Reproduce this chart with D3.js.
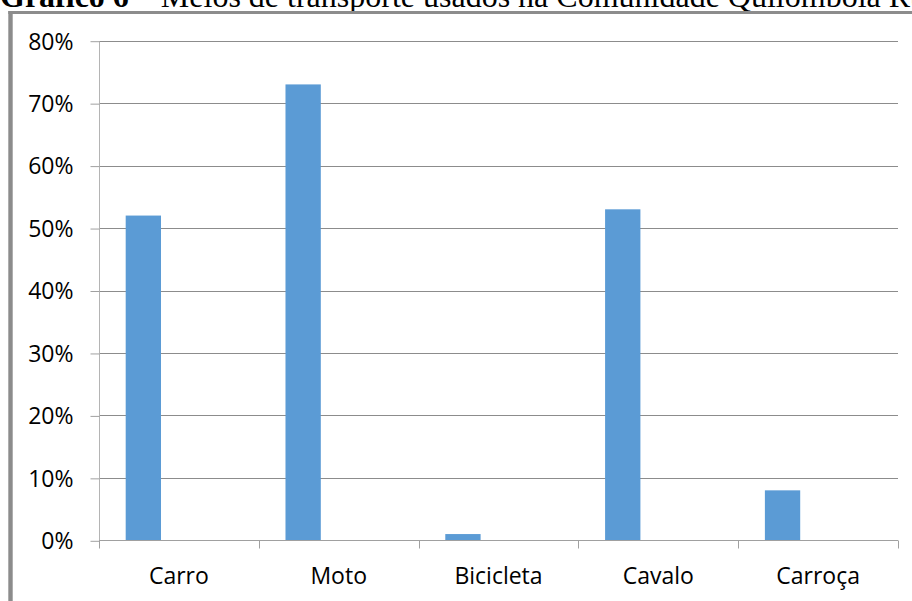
<!DOCTYPE html>
<html>
<head>
<meta charset="utf-8">
<script src="https://cdn.jsdelivr.net/npm/d3@7"></script>
<style>
  html, body { margin: 0; padding: 0; background: #fff; overflow: hidden; }
  svg { display: block; }
</style>
</head>
<body>
<svg id="chart" width="912" height="601"></svg>
<script>
// Meios de transporte usados na comunidade (share of households)
const categories = ["Carro", "Moto", "Bicicleta", "Cavalo", "Carroça"];
const values = [0.52, 0.73, 0.01, 0.53, 0.08];
const yTicks = [0, 0.1, 0.2, 0.3, 0.4, 0.5, 0.6, 0.7, 0.8];

const svg = d3.select("#chart");
const W = 912, H = 601;

// caption above the frame (partly cut by the top edge)
const cap = svg.append("text")
  .attr("x", 0).attr("y", 7)
  .attr("font-family", "'Liberation Serif', 'Times New Roman', serif")
  .attr("font-size", 32)
  .attr("fill", "#000");
cap.append("tspan").attr("font-weight", "bold").text("Gráfico 6");
cap.append("tspan").text(" – Meios de transporte usados na Comunidade Quilombola Rural");

// gray frame around the chart area
svg.append("rect").attr("x", 8.3).attr("y", 11).attr("width", 4.4).attr("height", H - 11).attr("fill", "#8c8c8c");
svg.append("rect").attr("x", 8.3).attr("y", 11).attr("width", W - 8.3).attr("height", 3).attr("fill", "#8c8c8c");

const plot = { left: 99, right: 898, top: 40.7, bottom: 540.3 };

const x = d3.scaleBand().domain(categories).range([plot.left, plot.right]).paddingInner(0).paddingOuter(0);
const y = d3.scaleLinear().domain([0, 0.8]).range([plot.bottom, plot.top]);

// horizontal gridlines
svg.append("g")
  .selectAll("line")
  .data(yTicks.filter(d => d > 0))
  .join("line")
  .attr("x1", plot.left).attr("x2", plot.right)
  .attr("y1", d => Math.round(y(d)) + 0.5).attr("y2", d => Math.round(y(d)) + 0.5)
  .attr("stroke", "#8c8c8c").attr("stroke-width", 1);

// bars (first slot of each category group)
const bw = x.bandwidth();
svg.append("g")
  .selectAll("rect")
  .data(categories.map((c, i) => ({ c, v: values[i] })))
  .join("rect")
  .attr("x", d => x(d.c) + bw * 0.167)
  .attr("width", bw * 0.221)
  .attr("y", d => y(d.v))
  .attr("height", d => y(0) - y(d.v))
  .attr("fill", "#5b9bd5");

const labelFont = "'Open Sans', 'Noto Sans', sans-serif";

// y axis
const yAxis = d3.axisLeft(y)
  .tickValues(yTicks)
  .tickFormat(d3.format(".0%"))
  .tickSize(9)
  .tickPadding(17);
const gy = svg.append("g").attr("transform", `translate(${plot.left + 0.5},0.5)`).call(yAxis);
gy.select(".domain").attr("stroke", "#b4b4b4").attr("d", `M0,${plot.top}V${plot.bottom}`);
gy.selectAll(".tick line").attr("stroke", "#a0a0a0");
gy.selectAll(".tick text")
  .attr("font-family", labelFont).attr("font-size", 23).attr("fill", "#000")
  .attr("dy", "0.34em");

// x axis with ticks between categories
const gx = svg.append("g").attr("transform", `translate(0,${Math.round(plot.bottom) + 0.5})`);
gx.append("line").attr("x1", plot.left).attr("x2", plot.right).attr("stroke", "#a0a0a0");
const bounds = categories.map(c => x(c)).concat([x(categories[categories.length - 1]) + bw]);
gx.selectAll("line.tk")
  .data(bounds)
  .join("line").attr("class", "tk")
  .attr("x1", d => Math.round(d) + 0.5).attr("x2", d => Math.round(d) + 0.5)
  .attr("y1", 0).attr("y2", 8)
  .attr("stroke", "#a0a0a0");
gx.selectAll("text")
  .data(categories)
  .join("text")
  .attr("x", d => x(d) + bw / 2)
  .attr("y", 43)
  .attr("text-anchor", "middle")
  .attr("font-family", labelFont).attr("font-size", 23).attr("fill", "#000")
  .text(d => d);
</script>
</body>
</html>
